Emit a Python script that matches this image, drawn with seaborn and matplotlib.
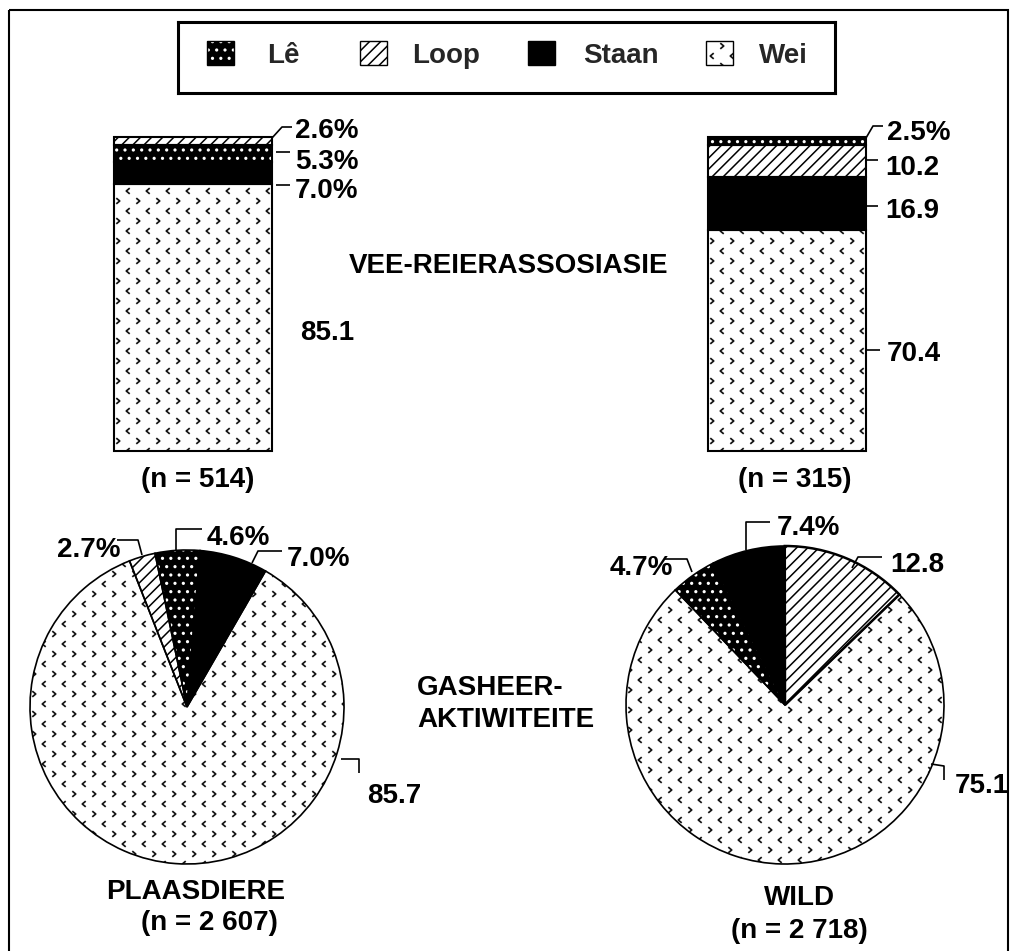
import numpy as np
import matplotlib
matplotlib.use('Agg')
import matplotlib.pyplot as plt
from matplotlib.path import Path
from matplotlib.markers import MarkerStyle
from matplotlib.patches import Rectangle
import seaborn as sns

# legend order
categories = ['Lê', 'Loop', 'Staan', 'Wei']

# stacked bars, listed from the bottom up
bar_left_cats = ['Wei', 'Staan', 'Lê', 'Loop']
bar_left_vals = [85.1, 7.0, 5.3, 2.6]
bar_right_cats = ['Wei', 'Staan', 'Loop', 'Lê']
bar_right_vals = [70.4, 16.9, 10.2, 2.5]
bar_left_n = '514'
bar_right_n = '315'

# pies, counter-clockwise from the start angle
pie_left_cats = ['Staan', 'Lê', 'Loop', 'Wei']
pie_left_vals = [7.0, 4.6, 2.7, 85.7]
pie_right_cats = ['Loop', 'Staan', 'Lê', 'Wei']
pie_right_vals = [12.8, 7.4, 4.7, 75.1]
pie_left_n = '2 607'
pie_right_n = '2 718'

sns.set_theme(style='white')
plt.rcParams['font.family'] = ['Liberation Sans', 'DejaVu Sans']
plt.rcParams['hatch.linewidth'] = 1.1

W, H = 1016, 951
fig = plt.figure(figsize=(W / 100, H / 100), dpi=100)
FS = 20


def px_axes(x0, y0, x1, y1, **kw):
    return fig.add_axes([x0 / W, 1 - y1 / H, (x1 - x0) / W, (y1 - y0) / H], **kw)


def lab(v):
    return f'{v:.1f}%' if v < 8 else f'{v:.1f}'


codes = [Path.MOVETO, Path.LINETO, Path.LINETO]
CHEV_R = MarkerStyle(Path([(-0.6, 1), (0.6, 0), (-0.6, -1)], codes))
CHEV_L = MarkerStyle(Path([(0.6, 1), (-0.6, 0), (0.6, -1)], codes))


def chevrons(ax, patch):
    # the "Wei" texture: staggered rows of > and <, clipped to the patch
    bb = ax.get_position()
    w, h = bb.width * W, bb.height * H
    gx, gy = np.meshgrid(np.arange(4, w + 20, 20), np.arange(4, h + 20, 20))
    for off, mk in ((0, CHEV_R), (10, CHEV_L)):
        sc = ax.scatter((gx + off).ravel() / w, 1 - (gy + off).ravel() / h,
                        transform=ax.transAxes, marker=mk, s=17,
                        facecolors='none', edgecolors='#151515',
                        linewidths=1.25, zorder=patch.get_zorder() + 0.05)
        sc.set_clip_path(patch)


def dress(p, cat):
    p.set_linewidth(0)
    if cat == 'Lê':
        p.set_facecolor('black')
        p.set_edgecolor('white')
        p.set_hatch('..')
        if hasattr(p, 'set_hatchcolor'):
            p.set_hatchcolor('white')
    elif cat == 'Loop':
        p.set_facecolor('white')
        p.set_edgecolor('black')
        p.set_hatch('///')
    elif cat == 'Staan':
        p.set_facecolor('black')
        p.set_edgecolor('black')
    else:
        p.set_facecolor('white')
        p.set_edgecolor('black')
        chevrons(p.axes, p)


def draw_bar(ax, vals, cats):
    tops = np.cumsum(vals)
    # tallest first so every shorter bar covers the one below
    for i in range(len(vals) - 1, -1, -1):
        sns.barplot(x=[0], y=[tops[i]], ax=ax, width=1, color='white',
                    saturation=1, errorbar=None)
        dress(ax.patches[-1], cats[i])
    outl = ax.bar(np.zeros(len(vals)), vals, bottom=tops - np.array(vals),
                  width=1, fill=False, edgecolor='black', linewidth=1.5, zorder=3)
    for r in outl:
        r.set_clip_on(False)
    ax.set_xlim(-0.5, 0.5)
    ax.set_ylim(0, 100)
    ax.set_axis_off()


def draw_pie(ax, vals, cats, start):
    wedges, _ = ax.pie(vals, startangle=start, radius=1,
                       wedgeprops=dict(linewidth=0))
    for w, c in zip(wedges, cats):
        dress(w, c)
    edges, _ = ax.pie(vals, startangle=start, radius=1,
                      wedgeprops=dict(fill=False, edgecolor='black',
                                      linewidth=1.2, zorder=3))
    for e in edges:
        e.set_clip_on(False)
    ax.set_xlim(-1, 1)
    ax.set_ylim(-1, 1)
    ax.set_aspect('equal')
    ax.set_axis_off()
    return edges


draw_bar(px_axes(114, 137, 272, 451), bar_left_vals, bar_left_cats)
draw_bar(px_axes(708, 137, 866, 451), bar_right_vals, bar_right_cats)
draw_pie(px_axes(30, 550, 344, 864), pie_left_vals, pie_left_cats, 60)
right_edges = draw_pie(px_axes(626, 546, 944, 864), pie_right_vals,
                       pie_right_cats, 44)
# the Loop wedge of the right pie has a heavier rim
right_edges[pie_right_cats.index('Loop')].set_linewidth(1.8)

# legend box
leg = px_axes(178, 22, 835, 93, zorder=5)
leg.set_xlim(0, 657)
leg.set_ylim(71, 0)
leg.set_xticks([])
leg.set_yticks([])
for s in leg.spines.values():
    s.set_visible(True)
    s.set_color('black')
    s.set_linewidth(2.2)
for cat, sx, tx in zip(categories, [29, 182, 350, 528], [89, 234, 405, 581]):
    sw = Rectangle((sx, 19), 27, 24)
    leg.add_patch(sw)
    dress(sw, cat)
    leg.add_patch(Rectangle((sx, 19), 27, 24, fill=False, edgecolor='black', lw=1))
    leg.text(tx, 41, cat, fontsize=FS, fontweight='bold', va='baseline')

# overlay for labels, leader lines and the outer frame (pixel coordinates)
ov = px_axes(0, 0, W, H, zorder=10)
ov.set_xlim(0, W)
ov.set_ylim(H, 0)
ov.set_axis_off()
ov.patch.set_alpha(0)
ov.add_patch(Rectangle((9, 10), 999, 960, fill=False, edgecolor='black',
                       lw=1.5, clip_on=False))

txt = dict(fontsize=FS, fontweight='bold', va='baseline', color='black')

# bar labels: (value, text left x, baseline, leader polyline)
bar_labels = [
    (bar_left_vals[3], 295, 138, [(272, 138), (282, 127), (292, 127)]),
    (bar_left_vals[2], 295, 169, [(276, 152), (290, 152)]),
    (bar_left_vals[1], 295, 198, [(276, 185), (290, 185)]),
    (bar_left_vals[0], 300, 340, None),
    (bar_right_vals[3], 887, 140, [(866, 138), (873, 126), (883, 126)]),
    (bar_right_vals[2], 885, 175, [(866, 160), (878, 160)]),
    (bar_right_vals[1], 885, 218, [(866, 206), (878, 206)]),
    (bar_right_vals[0], 887, 361, [(866, 350), (880, 350)]),
]
pie_labels = [
    (pie_left_vals[2], 57, 557, [(142, 555), (138, 540), (117, 540)]),
    (pie_left_vals[1], 207, 545, [(176, 551), (176, 529), (202, 529)]),
    (pie_left_vals[0], 287, 566, [(252, 563), (258, 551), (282, 551)]),
    (pie_left_vals[3], 367, 803, [(341, 759), (359, 759), (359, 773)]),
    (pie_right_vals[2], 610, 575, [(692, 572), (687, 559), (665, 559)]),
    (pie_right_vals[1], 777, 535, [(746, 550), (746, 522), (770, 522)]),
    (pie_right_vals[0], 890, 572, [(852, 568), (858, 557), (882, 557)]),
    (pie_right_vals[3], 955, 793, [(931, 764), (944, 766), (944, 780)]),
]
for v, x, y, line in bar_labels + pie_labels:
    ov.text(x, y, lab(v), ha='left', **txt)
    if line:
        xs, ys = zip(*line)
        ov.plot(xs, ys, color='black', lw=1.2, solid_capstyle='butt')

ov.text(509, 273, 'VEE-REIERASSOSIASIE', ha='center', **txt)
ov.text(417, 695, 'GASHEER-', ha='left', **txt)
ov.text(417, 727, 'AKTIWITEITE', ha='left', **txt)
ov.text(198, 487, f'(n = {bar_left_n})', ha='center', **txt)
ov.text(795, 487, f'(n = {bar_right_n})', ha='center', **txt)
ov.text(196, 899, 'PLAASDIERE', ha='center', **txt)
ov.text(209, 930, f'(n = {pie_left_n})', ha='center', **txt)
ov.text(799, 905, 'WILD', ha='center', **txt)
ov.text(799, 938, f'(n = {pie_right_n})', ha='center', **txt)

fig.savefig('out.png', dpi=100)
